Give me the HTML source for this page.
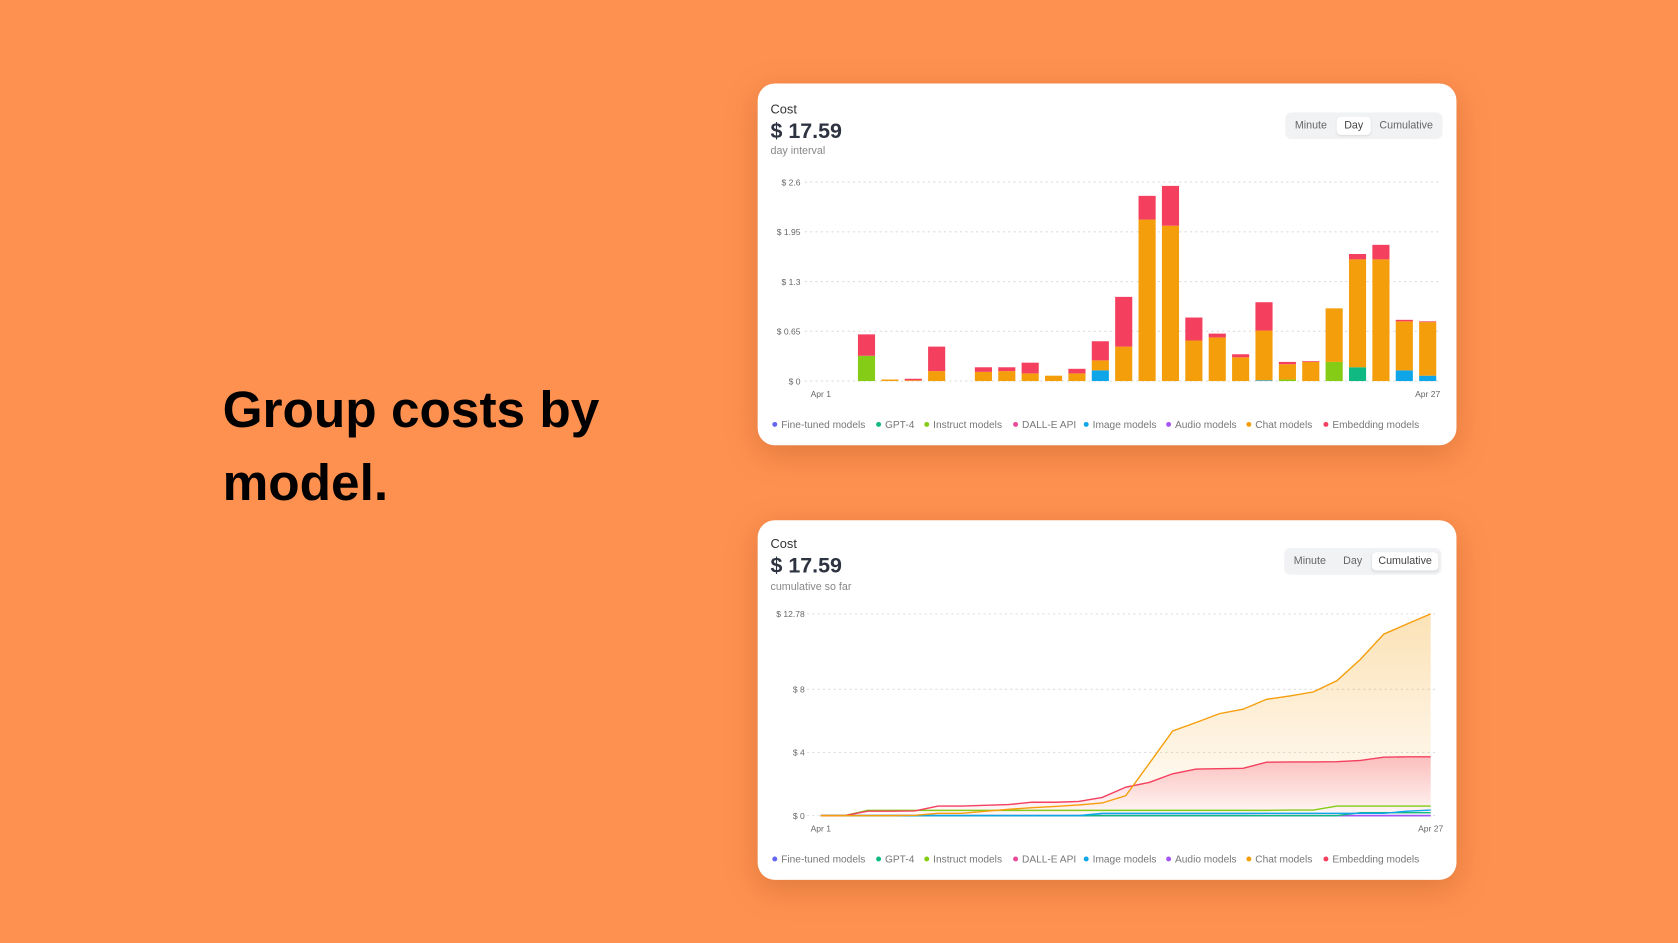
<!DOCTYPE html>
<html><head><meta charset="utf-8"><style>
html,body{margin:0;padding:0;width:1678px;height:943px;overflow:hidden;background:#FF9150;font-family:"Liberation Sans",sans-serif}
#root{position:absolute;left:0;top:0;width:1568px;height:881px;transform:scale(1.07015,1.07037);transform-origin:0 0}
.title{position:absolute;left:208px;top:350px;font-size:48px;font-weight:bold;line-height:68px;color:#000}
.card{position:absolute;left:708px;width:653px;background:#fff;border-radius:16px;box-shadow:0 8px 30px rgba(120,50,0,0.25)}
.cost{position:absolute;left:12px;font-size:12px;color:#333}
.big{position:absolute;left:12px;font-size:20px;font-weight:bold;color:#2d3340}
.sub{position:absolute;left:12px;font-size:10px;color:#888}
.tog{position:absolute;left:493px;width:147px;height:25px;background:#f1f2f4;border-radius:6px;font-size:10px;color:#666}
.tog span{position:absolute;top:4px;height:17px;line-height:17px;text-align:center;border-radius:4px}
.sel{background:#fff;box-shadow:0 1px 2px rgba(0,0,0,.1);color:#444}
svg{position:absolute;left:0;top:0}
</style></head><body><div id="root">
<div class="title">Group costs by<br>model.</div>

<div class="card" id="c1" style="top:78px;height:338px">
<div class="cost" style="top:17px">Cost</div>
<div class="big" style="top:34px">$ 17.59</div>
<div class="sub" style="top:58px">day interval</div>
<div class="tog" style="top:27px">
<span style="left:4px;width:40px">Minute</span>
<span class="sel" style="left:48px;width:32px">Day</span>
<span style="left:82px;width:62px">Cumulative</span>
</div>
<svg id="s1" width="653" height="338"></svg>
</div>

<div class="card" id="c2" style="top:486px;height:336px">
<div class="cost" style="top:15px">Cost</div>
<div class="big" style="top:32px">$ 17.59</div>
<div class="sub" style="top:57px">cumulative so far</div>
<div class="tog" style="top:26px;left:492px">
<span style="left:4px;width:40px">Minute</span>
<span style="left:48px;width:32px">Day</span>
<span class="sel" style="left:82px;width:62px">Cumulative</span>
</div>
<svg id="s2" width="653" height="336"></svg>
</div>
</div>
<script>
const seriesNames=["Fine-tuned models","GPT-4","Instruct models","DALL-E API","Image models","Audio models","Chat models","Embedding models"];
const seriesColors=["#6366f1","#10b981","#84cc16","#ec4899","#0ea5e9","#a855f7","#f59e0b","#f43f5e"];
// daily values Apr 1..27
const dFine=[0,0,0,0,0,0,0,0,0,0,0,0,0,0,0,0,0,0,0,0,0,0,0,0,0,0,0];
const dGpt4=[0,0,0,0,0,0,0,0,0,0,0,0,0,0,0,0,0,0,0,0,0,0,0,0.18,0,0,0];
const dInstruct=[0,0,0.33,0,0,0,0,0,0,0,0,0,0,0,0,0,0,0,0,0,0.02,0,0.25,0,0,0,0];
const dDalle=[0,0,0,0,0,0,0,0,0,0,0,0,0,0,0,0,0,0,0,0,0,0,0,0,0,0,0];
const dImage=[0,0,0,0,0,0,0,0,0,0,0,0,0.14,0,0,0,0,0,0,0.01,0,0,0,0,0,0.14,0.07];
const dAudio=[0,0,0,0,0,0,0,0,0,0,0,0,0,0,0,0,0,0,0,0,0,0,0,0,0,0,0];
const dChat=[0,0,0,0.02,0.01,0.13,0,0.12,0.13,0.1,0.07,0.1,0.13,0.45,2.11,2.03,0.53,0.57,0.31,0.65,0.2,0.25,0.7,1.41,1.59,0.64,0.7];
const dEmbed=[0,0,0.28,0,0.02,0.32,0,0.06,0.05,0.14,0,0.06,0.25,0.65,0.31,0.52,0.3,0.05,0.04,0.37,0.03,0.01,0,0.07,0.19,0.02,0.01];
const dayTicks=["$ 0","$ 0.65","$ 1.3","$ 1.95","$ 2.6"];
const dayTickVals=[0,0.65,1.3,1.95,2.6];
// cumulative
const cFine=[0,0,0,0,0,0,0,0,0,0,0,0,0,0,0,0,0,0,0,0,0,0,0,0,0,0,0];
const cGpt4=[0,0,0,0,0,0,0,0,0,0,0,0,0,0,0,0,0,0,0,0,0,0,0,0.18,0.18,0.18,0.18];
const cInstruct=[0,0,0.33,0.33,0.33,0.33,0.33,0.33,0.33,0.33,0.33,0.33,0.33,0.33,0.33,0.33,0.33,0.33,0.33,0.33,0.35,0.35,0.6,0.6,0.6,0.6,0.6];
const cImage=[0,0,0,0,0,0,0,0,0,0,0,0,0.14,0.14,0.14,0.14,0.14,0.14,0.14,0.15,0.15,0.15,0.15,0.15,0.15,0.28,0.35];
const cAudio=[0,0,0,0,0,0,0,0,0,0,0,0,0,0,0,0,0,0,0,0,0,0,0,0,0,0,0];
const cChat=[0,0,0,0,0.02,0.15,0.15,0.27,0.4,0.5,0.58,0.68,0.8,1.27,3.3,5.36,5.9,6.46,6.74,7.37,7.58,7.84,8.54,9.9,11.5,12.14,12.78];
const cEmbed=[0,0,0.28,0.28,0.3,0.6,0.6,0.65,0.7,0.85,0.85,0.9,1.15,1.8,2.1,2.65,2.95,2.97,3.0,3.38,3.4,3.4,3.42,3.5,3.7,3.72,3.72];
const cumTicks=["$ 0","$ 4","$ 8","$ 12.78"];
const cumTickVals=[0,4,8,12.78];
const xTickLabels=["Apr 1","Apr 27"];

const NS="http://www.w3.org/2000/svg";
function mk(p,tag,a){const e=document.createElementNS(NS,tag);for(const k in a)e.setAttribute(k,a[k]);p.appendChild(e);return e;}
function txt(p,x,y,s,anchor,size,col){const t=mk(p,"text",{x:x,y:y,"text-anchor":anchor,"font-size":size,fill:col,"font-family":"Liberation Sans, sans-serif"});t.textContent=s;return t;}

function legend(svg,y){
  const xs=[14,111,156,239,305,382,457,529];
  seriesNames.forEach((n,i)=>{
    const g=mk(svg,"g",{});
    
    
    mk(g,"circle",{cx:xs[i]+2,cy:y-3.5,r:2.3,fill:seriesColors[i]});
    txt(g,xs[i]+8,y,n,"start",9.5,"#777");
  });
}

// chart 1
(function(){
  const svg=document.getElementById("s1");
  const x=i=>58+i*21.85, y=v=>278-v*71.5;
  dayTickVals.forEach((v,i)=>{
    const l=mk(svg,"line",{x1:44,x2:636,y1:y(v),y2:y(v),stroke:"#ddd","stroke-dasharray":"2,3"});
    
    
    const t=txt(svg,40,y(v)+3,dayTicks[i],"end",8,"#666");
    
    
  });
  const series=[dFine,dGpt4,dInstruct,dDalle,dImage,dAudio,dChat,dEmbed];
  for(let d=0;d<27;d++){
    let acc=0;
    series.forEach((s,k)=>{
      const v=s[d]; if(!v) return;
      const r=mk(svg,"rect",{x:x(d)-8,y:y(acc+v),width:16,height:y(acc)-y(acc+v),fill:seriesColors[k]});
      
      
      acc+=v;
    });
  }
  const a=txt(svg,x(0)+1,293,xTickLabels[0],"middle",8,"#666");
  
  
  const b=txt(svg,x(26),293,xTickLabels[1],"middle",8,"#666");
  
  
  legend(svg,322);
})();

// chart 2
(function(){
  const svg=document.getElementById("s2");
  const x=i=>59+i*21.92, y=v=>276-v*14.75;
  const defs=mk(svg,"defs",{});
  [["gc","#f59e0b"],["ge","#f43f5e"]].forEach(([id,c])=>{
    const g=mk(defs,"linearGradient",{id:id,x1:0,y1:0,x2:0,y2:1});
    mk(g,"stop",{offset:"0","stop-color":c,"stop-opacity":"0.3"});
    mk(g,"stop",{offset:"1","stop-color":c,"stop-opacity":"0.02"});
  });
  cumTickVals.forEach((v,i)=>{
    const l=mk(svg,"line",{x1:46,x2:636,y1:y(v),y2:y(v),stroke:"#ddd","stroke-dasharray":"2,3"});
    
    
    const t=txt(svg,44,y(v)+3,cumTicks[i],"end",8,"#666");
    
    
  });
  const pts=s=>s.map((v,i)=>x(i).toFixed(1)+","+y(v).toFixed(1)).join(" ");
  const area=(s,f)=>{const p=mk(svg,"polygon",{points:pts(s)+" "+x(26)+","+y(0)+" "+x(0)+","+y(0),fill:f});return p;};
  const a1=area(cChat,"url(#gc)");
  
  
  const a2=area(cEmbed,"url(#ge)");
  
  
  const lines=[[cFine,0],[cAudio,5],[cGpt4,1],[cImage,4],[cInstruct,2],[cEmbed,7],[cChat,6]];
  lines.forEach(([s,k])=>{
    const l=mk(svg,"polyline",{points:pts(s),fill:"none",stroke:seriesColors[k],"stroke-width":1.3});
    
    
  });
  const a=txt(svg,x(0),291,xTickLabels[0],"middle",8,"#666");
  
  
  const b=txt(svg,x(26),291,xTickLabels[1],"middle",8,"#666");
  
  
  legend(svg,320);
})();
</script>
</body></html>
